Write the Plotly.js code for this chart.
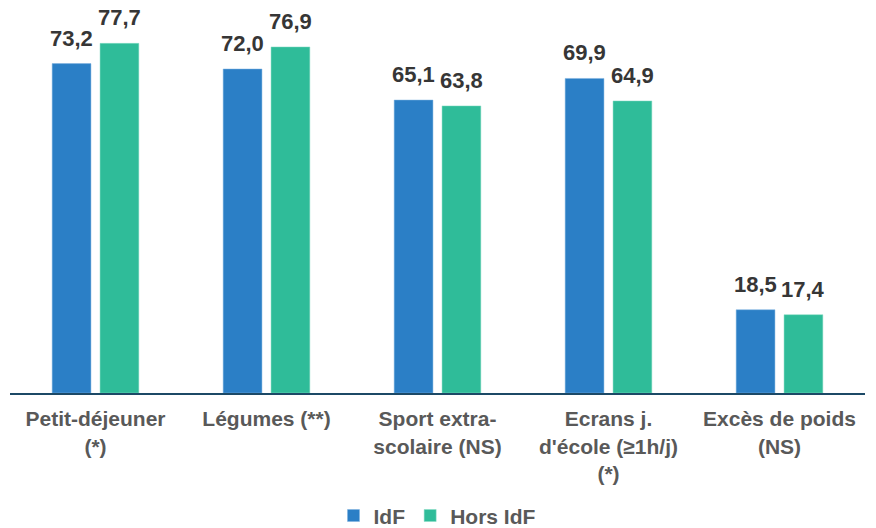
<!DOCTYPE html>
<html>
<head>
<meta charset="utf-8">
<script src="https://cdn.plot.ly/plotly-3.0.1.min.js"></script>
<style>html,body{margin:0;padding:0;background:#fff;}#chart{width:876px;height:528px;}</style>
</head>
<body>
<div id="chart"></div>
<script>
const categories = ["Petit-déjeuner<br>(*)", "Légumes (**)", "Sport extra-<br>scolaire (NS)", "Ecrans j.<br>d'école (≥1h/j)<br>(*)", "Excès de poids<br>(NS)"];
const idfValues = [73.2, 72.0, 65.1, 69.9, 18.5];
const horsIdfValues = [77.7, 76.9, 63.8, 64.9, 17.4];
const seriesNames = ["IdF", "Hors IdF"];

const fmt = v => v.toFixed(1).replace('.', ',');
const FONT = "Liberation Sans, Arial, sans-serif";
const labelFont = {family: FONT, size: 22, color: "#363636", weight: 700};

const W = 876, H = 528;
const margin = {l: 10, r: 11, t: 33, b: 135, autoexpand: false};
const bargap = 0.44, bargroupgap = 0.19;
const plotW = W - margin.l - margin.r;
const slot = plotW / categories.length * (1 - bargap) / 2;

const traces = [
  {type: 'bar', name: seriesNames[0], x: categories, y: idfValues,
   marker: {color: '#2B7FC6', line: {color: '#7fb3e0', width: 0.5}}, hoverinfo: 'skip'},
  {type: 'bar', name: seriesNames[1], x: categories, y: horsIdfValues,
   marker: {color: '#2FBC99', line: {color: '#86dcc4', width: 0.5}}, hoverinfo: 'skip'}
];

const annotations = [];
[idfValues, horsIdfValues].forEach((vals, si) => {
  vals.forEach((v, i) => {
    annotations.push({x: categories[i], y: v, xref: 'x', yref: 'y', text: fmt(v),
      showarrow: false, xanchor: 'center', yanchor: 'bottom',
      xshift: (si === 0 ? -1 : 1) * slot / 2, yshift: 11, font: labelFont});
  });
});

const layout = {
  width: W, height: H, margin: margin,
  paper_bgcolor: '#ffffff', plot_bgcolor: '#ffffff',
  barmode: 'group', bargap: bargap, bargroupgap: bargroupgap,
  showlegend: true,
  legend: {orientation: 'h', x: 0.5, xanchor: 'center', yref: 'container', y: 0.023, yanchor: 'middle',
    font: {family: FONT, size: 21, color: '#595959', weight: 700}},
  annotations: annotations,
  xaxis: {showline: true, linecolor: '#1C4966', linewidth: 2, ticks: '', showgrid: false,
    zeroline: false, automargin: false, ticklabelstandoff: 6,
    tickfont: {family: FONT, size: 21, color: '#595959', weight: 700}},
  yaxis: {range: [0, 80], visible: false, showgrid: false, zeroline: false}
};

Plotly.newPlot('chart', traces, layout, {displayModeBar: false, staticPlot: true});
</script>
</body>
</html>
